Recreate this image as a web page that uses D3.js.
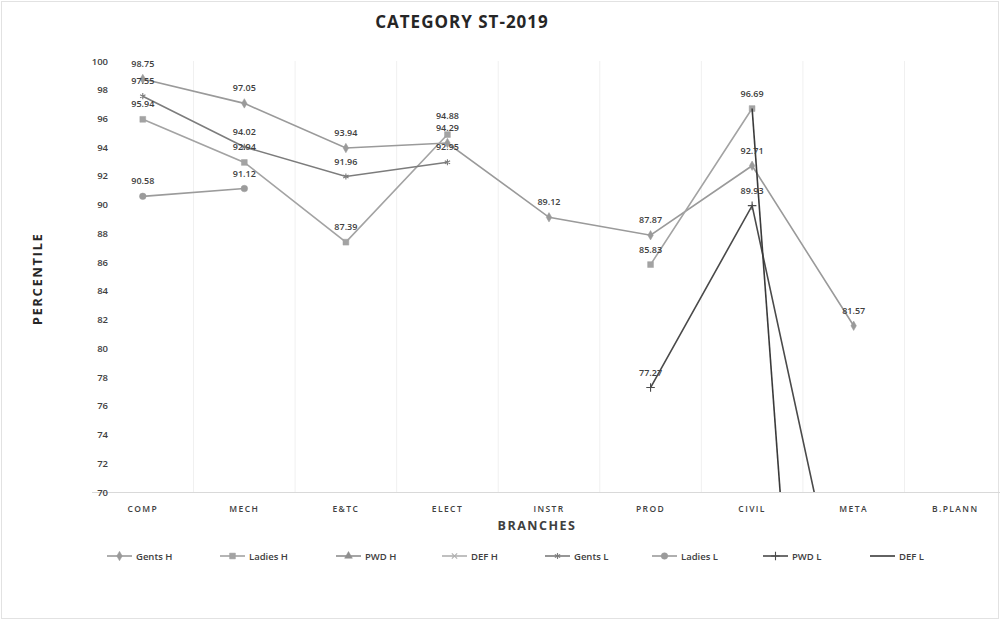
<!DOCTYPE html>
<html>
<head>
<meta charset="utf-8">
<script src="https://cdn.jsdelivr.net/npm/d3@7"></script>
<style>
  body { margin: 0; background: #fff; }
  text { font-family: "Open Sans", "DejaVu Sans", sans-serif; }
</style>
</head>
<body>
<div id="chart"></div>
<script>
// categories and series
var branches = ["COMP", "MECH", "E&TC", "ELECT", "INSTR", "PROD", "CIVIL", "META", "B.PLANN"];
var seriesNames = ["Gents H", "Ladies H", "PWD H", "DEF H", "Gents L", "Ladies L", "PWD L", "DEF L"];
var gentsH  = [98.75, 97.05, 93.94, 94.29, 89.12, 87.87, 92.71, 81.57, null];
var ladiesH = [95.94, 92.94, 87.39, 94.88, null, 85.83, 96.69, null, null];
var pwdH    = [null, null, null, null, null, null, null, null, null];
var defH    = [null, null, null, null, null, null, null, null, null];
var gentsL  = [97.55, 94.02, 91.96, 92.95, null, null, null, null, null];
var ladiesL = [90.58, 91.12, null, null, null, null, null, null, null];
var pwdL    = [null, null, null, null, null, 77.27, 89.93, 57.3, null];
var defL    = [null, null, null, null, null, null, 96.69, 0, null];
var yTicks  = [70, 72, 74, 76, 78, 80, 82, 84, 86, 88, 90, 92, 94, 96, 98, 100];

var allValues = [gentsH, ladiesH, pwdH, defH, gentsL, ladiesL, pwdL, defL];
// look of each series
var colors  = ["#9a9a9a", "#a3a3a3", "#8f8f8f", "#b0b0b0", "#7c7c7c", "#9b9b9b", "#4a4a4a", "#3a3a3a"];
var markers = [d3.symbolDiamond, d3.symbolSquare, d3.symbolTriangle, d3.symbolTimes, d3.symbolAsterisk, d3.symbolCircle, d3.symbolPlus, null];
var filled  = [true, true, true, false, false, true, false, false];
var msize   = [26, 34, 26, 20, 26, 34, 26, 0];

var svgWidth = 1000, svgHeight = 620;
var plot = { left: 92, right: 1006, top: 61, bottom: 492 };

var svg = d3.select("#chart").append("svg")
  .attr("width", svgWidth)
  .attr("height", svgHeight);

// chart border
svg.append("rect")
  .attr("x", 1.5).attr("y", 1.5)
  .attr("width", svgWidth - 3).attr("height", svgHeight - 3)
  .attr("fill", "none").attr("stroke", "#e2e2e2");

var x = d3.scalePoint().domain(branches).range([plot.left, plot.right]).padding(0.5);
var step = x.step();
var y = d3.scaleLinear().domain([70, 100]).range([plot.bottom, plot.top]);

// vertical grid lines at category edges
svg.append("g").selectAll("line")
  .data(branches.slice(1))
  .enter().append("line")
  .attr("x1", d => x(d) - step / 2).attr("x2", d => x(d) - step / 2)
  .attr("y1", plot.top).attr("y2", plot.bottom)
  .attr("stroke", "#f0f0f0");

// x axis line
svg.append("line")
  .attr("x1", plot.left).attr("x2", plot.right)
  .attr("y1", plot.bottom + 0.5).attr("y2", plot.bottom + 0.5)
  .attr("stroke", "#d9d9d9");

// y tick labels
svg.append("g").selectAll("text")
  .data(yTicks)
  .enter().append("text")
  .attr("x", 108).attr("y", d => y(d) + 3.5)
  .attr("text-anchor", "end")
  .attr("font-size", 9.5).attr("font-weight", 600)
  .attr("fill", "#404040")
  .text(d => d);

// category labels
svg.append("g").selectAll("text")
  .data(branches)
  .enter().append("text")
  .attr("x", d => x(d)).attr("y", 512)
  .attr("text-anchor", "middle")
  .attr("font-size", 8.5).attr("font-weight", 600)
  .attr("letter-spacing", 1.4)
  .attr("fill", "#404040")
  .text(d => d);

// titles
svg.append("text")
  .attr("x", 462).attr("y", 28)
  .attr("text-anchor", "middle")
  .attr("font-size", 17).attr("font-weight", 700)
  .attr("letter-spacing", 1)
  .attr("fill", "#262626")
  .text("CATEGORY ST-2019");

svg.append("text")
  .attr("x", 537).attr("y", 530)
  .attr("text-anchor", "middle")
  .attr("font-size", 12.5).attr("font-weight", 700)
  .attr("letter-spacing", 1.5)
  .attr("fill", "#404040")
  .text("BRANCHES");

svg.append("text")
  .attr("transform", "translate(42, 279) rotate(-90)")
  .attr("text-anchor", "middle")
  .attr("font-size", 13).attr("font-weight", 700)
  .attr("letter-spacing", 1.6)
  .attr("fill", "#262626")
  .text("PERCENTILE");

// clip to the plot area
svg.append("clipPath").attr("id", "plotClip")
  .append("rect")
  .attr("x", plot.left).attr("y", plot.top - 20)
  .attr("width", plot.right - plot.left).attr("height", plot.bottom - plot.top + 20);

var lineGen = d3.line()
  .defined(d => d.v !== null)
  .x(d => x(d.b))
  .y(d => y(d.v));

var seriesGroup = svg.append("g").attr("clip-path", "url(#plotClip)");

allValues.forEach(function(vals, i) {
  var pts = vals.map((v, j) => ({ b: branches[j], v: v }));
  seriesGroup.append("path")
    .datum(pts)
    .attr("fill", "none")
    .attr("stroke", colors[i])
    .attr("stroke-width", 1.6)
    .attr("d", lineGen);

  if (markers[i]) {
    seriesGroup.selectAll(null)
      .data(pts.filter(d => d.v !== null && d.v >= 70))
      .enter().append("path")
      .attr("transform", d => `translate(${x(d.b)},${y(d.v)})`)
      .attr("d", d3.symbol().type(markers[i]).size(msize[i]))
      .attr("fill", filled[i] ? colors[i] : "none")
      .attr("stroke", colors[i])
      .attr("stroke-width", filled[i] ? 0.5 : 1.1);
  }
});

// data labels: one per point above the axis minimum, same value only once,
// and lift a label a little when it sits right on top of another one
var labels = [];
allValues.forEach(function(vals, i) {
  vals.forEach(function(v, j) {
    if (v === null || v < 70) return;
    if (labels.some(l => l.b === branches[j] && l.v === v)) return;
    labels.push({ b: branches[j], v: v, ty: y(v) - 12 });
  });
});
branches.forEach(function(b) {
  var col = labels.filter(l => l.b === b).sort((a, c) => c.ty - a.ty);
  for (var k = 1; k < col.length; k++) {
    if (col[k - 1].ty - col[k].ty < 12.5) col[k].ty = col[k - 1].ty - 12.5;
  }
});
svg.append("g").selectAll("text")
  .data(labels)
  .enter().append("text")
  .attr("x", d => x(d.b)).attr("y", d => d.ty)
  .attr("text-anchor", "middle")
  .attr("font-size", 9).attr("font-weight", 600)
  .attr("fill", "#404040")
  .text(d => d.v.toFixed(2));

// legend
var legendX = [107, 220, 336, 442, 545, 652, 763, 870];
var legend = svg.append("g");
seriesNames.forEach(function(name, i) {
  var g = legend.append("g").attr("transform", `translate(${legendX[i]}, 556)`);
  g.append("line")
    .attr("x1", 0).attr("x2", 25).attr("y1", 0).attr("y2", 0)
    .attr("stroke", colors[i]).attr("stroke-width", 1.6);
  if (markers[i]) {
    g.append("path")
      .attr("transform", "translate(12.5,0)")
      .attr("d", d3.symbol().type(markers[i]).size(msize[i]))
      .attr("fill", filled[i] ? colors[i] : "none")
      .attr("stroke", colors[i])
      .attr("stroke-width", filled[i] ? 0.5 : 1.1);
  }
  g.append("text")
    .attr("x", 29).attr("y", 3.5)
    .attr("font-size", 9.5).attr("font-weight", 600)
    .attr("fill", "#404040")
    .text(name);
});
</script>
</body>
</html>
